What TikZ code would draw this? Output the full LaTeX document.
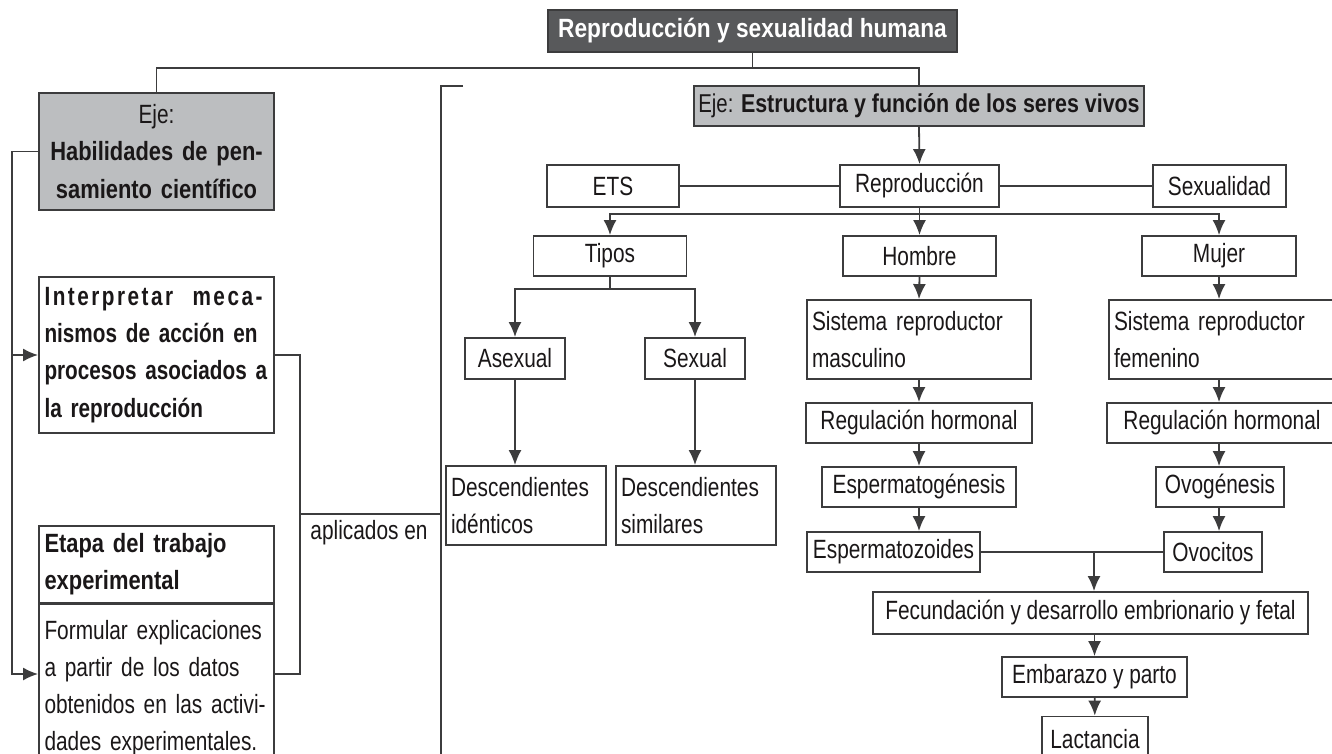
\documentclass[tikz,border=0pt]{standalone}
\usepackage{fontspec}
\setmainfont{Liberation Sans}[FakeStretch=0.79,BoldFeatures={FakeStretch=0.83}]
\newfontfamily\angosta{Liberation Sans}[FakeStretch=0.785]
\newfontfamily\titular{Liberation Sans}[FakeStretch=0.86]
\usepackage{tikz}
\usetikzlibrary{arrows.meta}
\definecolor{borde}{HTML}{3C3C3D}
\definecolor{tinta}{HTML}{1A1718}
\definecolor{grisclaro}{HTML}{BCBEC0}
\definecolor{grisoscuro}{HTML}{58595B}
\newcommand{\letra}{\fontsize{13.2}{18.6}\selectfont}
\tikzstyle{caja}=[draw=borde, line width=0.9pt, inner sep=3pt, text=tinta, font=\letra]
\tikzstyle{cajagris}=[caja, fill=grisclaro]
\tikzstyle{titulo}=[caja, fill=grisoscuro, text=white, font=\titular\letra\bfseries]
\tikzstyle{texto}=[inner sep=0pt, text=tinta, font=\letra]
\tikzstyle{linea}=[draw=borde, line width=0.9pt]
\tikzstyle{flecha}=[linea, -{Latex[length=7.5pt,width=6.5pt]}]

\begin{document}
\begin{tikzpicture}[x=0.5pt, y=-0.5pt]
\useasboundingbox (0,0) rectangle (1332,754);
\clip (0,0) rectangle (1332,754);
% left side
\node[titulo, minimum width=204.5pt, minimum height=21pt] (tit) at (752.5,31) {Reproducción y sexualidad humana};
\node[cajagris, minimum width=117.5pt, minimum height=58.5pt, text width=114pt, inner xsep=1.75pt, align=center] (ejeH) at (156.5,151.5)
  {Eje:\\\textbf{Habilidades de pen-}\\\textbf{samiento científico}};
\node[caja, minimum width=117.5pt, minimum height=78pt, text width=112pt, inner xsep=2.75pt, align=left, font=\angosta\letra\bfseries] (interp) at (156.5,355)
  {{\addfontfeature{LetterSpace=9.5}\makebox[109pt][s]{Interpretar\hfill meca-}}\\\makebox[109pt][s]{nismos de acción en}\\\makebox[109pt][s]{procesos asociados a}\\la reproducción};
\node[caja, minimum width=117.5pt, minimum height=38.5pt, text width=112pt, inner xsep=2.75pt, align=left, font=\letra\bfseries] (etapaT) at (156.5,564.5)
  {Etapa del trabajo\\experimental};
\node[caja, anchor=north, minimum width=117.5pt, text width=112pt, inner xsep=2.75pt, align=left, inner ysep=8pt] (etapaB) at (156.5,603)
  {Formular explicaciones\\a partir de los datos\\\mbox{obtenidos en las activi-}\\\mbox{dades experimentales.}};
\node[texto] (apl) at (369,533) {aplicados en};
% right side
\node[cajagris, minimum width=225pt, minimum height=20pt, inner xsep=1pt, font=\fontsize{12.9}{18.6}\selectfont] (ejeE) at (919,106)
  {Eje: \textbf{Estructura y función de los seres vivos}};
\node[caja, minimum width=66pt, minimum height=21pt] (ets) at (613,186) {ETS};
\node[caja, minimum width=79.5pt, minimum height=21pt] (repro) at (919.5,186) {Reproducción};
\node[caja, minimum width=66.5pt, minimum height=21pt] (sexu) at (1219.5,186) {Sexualidad};
\node[caja, minimum width=76.5pt, minimum height=20pt] (tipos) at (610,256) {Tipos};
\node[caja, minimum width=76.5pt, minimum height=20pt] (hombre) at (919.5,256) {Hombre};
\node[caja, minimum width=77pt, minimum height=20pt] (mujer) at (1219,256) {Mujer};
\node[caja, minimum width=50pt, minimum height=20.5pt] (asex) at (515,358.5) {Asexual};
\node[caja, minimum width=50pt, minimum height=20.5pt] (sex) at (695,358.5) {Sexual};
\node[caja, minimum width=80pt, minimum height=39.5pt, text width=75pt, inner xsep=2.5pt, align=left] (descI) at (526,505.5) {Descendientes\\idénticos};
\node[caja, minimum width=80pt, minimum height=39.5pt, text width=75pt, inner xsep=2.5pt, align=left] (descS) at (696,505.5) {Descendientes\\similares};
\node[caja, minimum width=112pt, minimum height=39.5pt, text width=107pt, inner xsep=2.5pt, align=left] (sisM) at (919,339.5) {Sistema reproductor\\masculino};
\node[caja, minimum width=113pt, minimum height=20pt] (regM) at (919,423) {Regulación hormonal};
\node[caja, minimum width=97pt, minimum height=20pt] (espg) at (919,487) {Espermatogénesis};
\node[caja, minimum width=66.5pt, minimum height=20pt] (espz) at (893.5,552) {Espermatozoides};
\node[caja, minimum width=114pt, minimum height=39.5pt, text width=109pt, inner xsep=2.5pt, align=left] (sisF) at (1223,339.5) {Sistema reproductor\\femenino};
\node[caja, minimum width=115pt, minimum height=20pt] (regF) at (1222,423) {Regulación hormonal};
\node[caja, minimum width=64pt, minimum height=20pt] (ovog) at (1220,487) {Ovogénesis};
\node[caja, minimum width=49pt, minimum height=20pt] (ovoc) at (1213,552) {Ovocitos};
\node[caja, minimum width=217.5pt, minimum height=21pt] (fec) at (1090.5,613) {Fecundación y desarrollo embrionario y fetal};
\node[caja, minimum width=92.5pt, minimum height=20pt] (emb) at (1094.5,677) {Embarazo y parto};
\node[caja, minimum width=53pt, minimum height=23pt] (lact) at (1095,739.5) {Lactancia};
% connectors
\draw[linea] (tit.south) -- ++(0,15) coordinate (b1);
\draw[linea] (ejeH.north) |- (b1) -| (ejeE.north);
\coordinate (li) at (12,674);
\draw[flecha] (ejeH.west) -| (li) -- (li -| etapaB.west);
\draw[flecha] (li |- interp.west) -- (interp.west);
\coordinate (ld) at (300,514);
\coordinate (lv) at (441,514);
\draw[linea] (interp.east) -| (ld) |- (li -| etapaB.east);
\draw[linea] (ld) -- (lv);
\coordinate (lt) at (463,86);
\coordinate (lb) at (441,770);
\draw[linea] (lt) -| (lb);
\draw[flecha] (ejeE.south) -- (repro.north);
\draw[linea] (ets) -- (repro);
\draw[linea] (repro) -- (sexu);
\draw[linea] (repro.south) -- ++(0,6) coordinate (b2);
\draw[flecha] (b2) -- (hombre.north);
\draw[flecha] (b2) -| (tipos.north);
\draw[flecha] (b2) -| (mujer.north);
\draw[linea] (tipos.south) -- ++(0,12) coordinate (b3);
\draw[flecha] (b3) -| (asex.north);
\draw[flecha] (b3) -| (sex.north);
\draw[flecha] (asex.south) -- (asex.south |- descI.north);
\draw[flecha] (sex.south) -- (sex.south |- descS.north);
\foreach \a/\b in {hombre/sisM, sisM/regM, regM/espg}
  \draw[flecha] (\a.south) -- (\b.north);
\draw[flecha] (espg.south) -- (espg.south |- espz.north);
\foreach \a/\b in {mujer/sisF, sisF/regF, regF/ovog, ovog/ovoc}
  \draw[flecha] (\a.south -| mujer) -- (\b.north -| mujer);
\draw[linea] (espz) -- (ovoc);
\coordinate (b4) at (1094,552);
\draw[flecha] (b4) -- (b4 |- fec.north);
\draw[flecha] (fec.south -| emb) -- (emb.north);
\draw[flecha] (emb) -- (lact);
\end{tikzpicture}
\end{document}
